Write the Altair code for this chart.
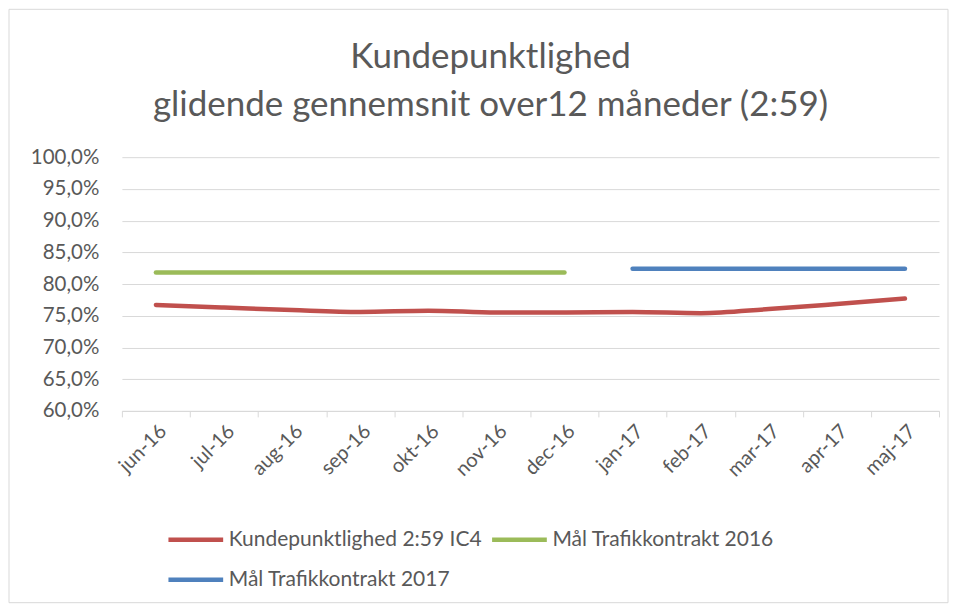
import altair as alt
import pandas as pd

months = ["jun-16", "jul-16", "aug-16", "sep-16", "okt-16", "nov-16",
          "dec-16", "jan-17", "feb-17", "mar-17", "apr-17", "maj-17"]
kundepunktlighed = [76.7, 76.3, 75.9, 75.6, 75.8, 75.5, 75.5, 75.6, 75.4, 76.05, 76.85, 77.7]
maal_2016 = [81.8, 81.8, 81.8, 81.8, 81.8, 81.8, 81.8, None, None, None, None, None]
maal_2017 = [None, None, None, None, None, None, None, 82.4, 82.4, 82.4, 82.4, 82.4]
series_names = ["Kundepunktlighed 2:59 IC4", "Mål Trafikkontrakt 2016", "Mål Trafikkontrakt 2017"]
series_colors = ["#C0504D", "#9BBB59", "#4F81BD"]
y_ticks = [60, 65, 70, 75, 80, 85, 90, 95, 100]

rows = []
for name, vals in zip(series_names, [kundepunktlighed, maal_2016, maal_2017]):
    for m, v in zip(months, vals):
        if v is not None:
            rows.append({"serie": name, "maaned": m, "vaerdi": v})
df = pd.DataFrame(rows)

FONT = "Lato"
GREY = "#595959"

lines = alt.Chart(df).mark_line(strokeWidth=4.5, strokeCap="round", interpolate="monotone").encode(
    x=alt.X("maaned:N", sort=months, title=None,
            scale=alt.Scale(paddingInner=0, paddingOuter=0),
            axis=alt.Axis(labelAngle=-45, labelFontSize=20, labelColor=GREY, labelFont=FONT,
                          tickBand="extent", ticks=True, tickSize=6, tickColor="#d9d9d9",
                          domainColor="#d9d9d9", grid=False, labelPadding=4)),
    y=alt.Y("vaerdi:Q", title=None,
            scale=alt.Scale(domain=[60, 100], nice=False, zero=False),
            axis=alt.Axis(values=y_ticks, labelFontSize=20.5, labelColor=GREY, labelFont=FONT,
                          labelExpr="replace(format(datum.value, '.1f'), '.', ',') + '%'",
                          domain=False, ticks=False, gridColor="#d9d9d9", gridWidth=1,
                          labelPadding=23)),
    color=alt.Color("serie:N", scale=alt.Scale(domain=series_names, range=series_colors),
                    legend=alt.Legend(title=None, orient="none", legendX=44, legendY=353,
                                      direction="horizontal",
                                      columns=2, symbolType="stroke", symbolSize=3000,
                                      symbolStrokeWidth=4.5, labelFontSize=21, labelFont=FONT,
                                      labelColor=GREY, columnPadding=0, rowPadding=-12,
                                      labelOffset=3, labelLimit=0)),
    detail="serie:N",
)

border = alt.Chart(pd.DataFrame({"k": [0]})).mark_rect(
    fillOpacity=0, stroke="#d9d9d9", strokeWidth=1
).encode(x=alt.value(-113), x2=alt.value(827), y=alt.value(-148), y2=alt.value(446))

chart = alt.layer(border, lines).properties(
    width=818, height=254,
    title=alt.Title(["Kundepunktlighed", "glidende gennemsnit over12 måneder (2:59)"],
                    fontSize=35, font=FONT, fontWeight="normal", color=GREY,
                    anchor="middle", dx=-40, offset=-114, lineHeight=48),
    autosize=alt.AutoSizeParams(type="none"),
    padding={"left": 114, "top": 149, "right": 10, "bottom": 194},
).configure_view(strokeWidth=0)

chart.save("out.html", embed_options={"renderer": "svg", "actions": False})
